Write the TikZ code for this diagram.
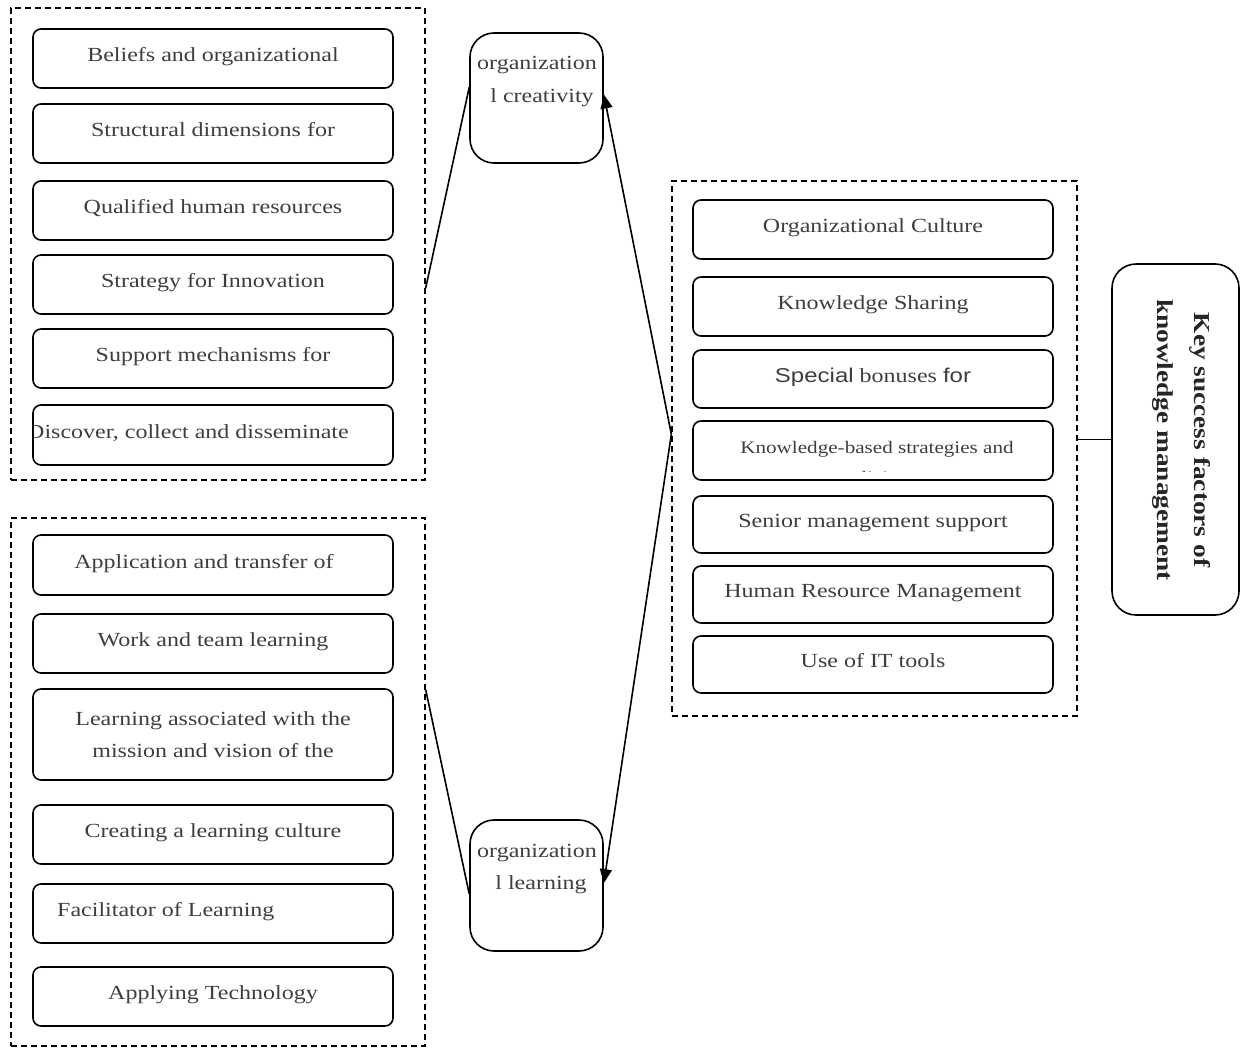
\documentclass[tikz,border=0pt]{standalone}
\usepackage{fontspec}
\setmainfont{Liberation Serif}[FakeStretch=1.2]
\newfontfamily\arialf{Liberation Sans}[FakeStretch=1.2]
\usetikzlibrary{arrows.meta}
\definecolor{txtc}{RGB}{62,62,62}
\begin{document}
\begin{tikzpicture}[x=1pt,y=-1pt,
  font=\fontsize{20}{31.5}\selectfont,
  grp/.style={draw, dash pattern=on 6pt off 4pt, line width=1.3pt, inner sep=0pt},
  itembox/.style={draw, line width=1.6pt, rounded corners=8pt, minimum width=360pt,
    inner sep=0pt, text height=14pt, text depth=8pt, text=txtc},
  bigbox/.style={draw, line width=1.6pt, rounded corners=24pt, inner sep=0pt},
  lbl/.style={text=txtc, inner sep=0pt},
  conn/.style={line width=1.6pt},
  arr/.style={conn, -{Triangle[length=14pt,width=12pt]}}]
\useasboundingbox (0,0) rectangle (1241,1049);

% ---------- group 1 ----------
\node[grp, minimum width=414pt, minimum height=472pt] (G1) at (218,244) {};
\node[itembox, minimum height=59pt] (B1) at (213,58.5) {Beliefs and organizational};
\node[itembox, minimum height=59pt] (B2) at (213,133.5) {Structural dimensions for};
\node[itembox, minimum height=59pt] (B3) at (213,210.5) {Qualified human resources};
\node[itembox, minimum height=59pt] (B4) at (213,284.5) {Strategy for Innovation};
\node[itembox, minimum height=59pt] (B5) at (213,358.5) {Support mechanisms for};
\node[itembox, minimum height=60pt] (B6) at (213,435) {};
\begin{scope}
  \clip (33,405) rectangle (393,465);
  \node[lbl, anchor=base west] (T6) at (27,438) {Discover, collect and disseminate};
\end{scope}

% ---------- group 2 ----------
\node[grp, minimum width=414pt, minimum height=528pt] (G2) at (218,782) {};
\node[itembox, minimum height=60pt] (C1) at (213,565) {\hspace*{-18pt}Application and transfer of};
\node[itembox, minimum height=59pt] (C2) at (213,643.5) {Work and team learning};
\node[itembox, minimum height=91pt, align=center, text height=, text depth=] (C3) at (213,734.5)
  {Learning associated with the\\mission and vision of the};
\node[itembox, minimum height=59pt] (C4) at (213,834.5) {Creating a learning culture};
\node[itembox, minimum height=59pt] (C5) at (213,913.5) {};
\node[lbl, anchor=base west] (T5) at (57,916.5) {Facilitator of Learning};
\node[itembox, minimum height=59pt] (C6) at (213,996.5) {Applying Technology};

% ---------- middle boxes ----------
\node[bigbox, minimum width=133pt, minimum height=130pt] (CR) at (536.5,98) {};
\node[lbl, anchor=base] (CRa) at (537,70) {organization};
\node[lbl, anchor=base] (CRb) at (542,102) {l creativity};
\node[bigbox, minimum width=133pt, minimum height=131pt] (LB) at (536.5,885.5) {};
\node[lbl, anchor=base] (LBa) at (537,857) {organization};
\node[lbl, anchor=base] (LBb) at (541,889) {l learning};

% ---------- right group ----------
\node[grp, minimum width=405pt, minimum height=535pt] (RG) at (874.5,448.5) {};
\node[itembox, minimum height=59pt] (R1) at (873,229.5) {Organizational Culture};
\node[itembox, minimum height=59pt] (R2) at (873,306.5) {Knowledge Sharing};
\node[itembox, minimum height=58pt] (R3) at (873,379) {{\arialf Special} bonuses {\arialf for}};
\node[itembox, minimum height=59pt] (R4) at (873,450.5) {};
\begin{scope}
  \clip (693,421) rectangle (1053,471);
  \node[lbl, anchor=base, font=\fontsize{17.6}{27}\selectfont] (R4a) at (877,453) {Knowledge-based strategies and};
  \node[lbl, anchor=base, font=\fontsize{17.6}{27}\selectfont] (R4b) at (873,483) {policies};
\end{scope}
\node[itembox, minimum height=57pt] (R5) at (873,524.5) {Senior management support};
\node[itembox, minimum height=57pt] (R6) at (873,594.5) {Human Resource Management};
\node[itembox, minimum height=57pt] (R7) at (873,664.5) {Use of IT tools};

% ---------- key box ----------
\node[bigbox, minimum width=127pt, minimum height=351pt] (KB) at (1175.5,439.5) {};
\node[lbl, rotate=-90, align=center, text=black!85,
  font=\bfseries\fontsize{22.8}{37}\selectfont] (KT) at (1181,440)
  {Key success factors of\\knowledge management};

% ---------- connectors ----------
\draw[conn] (G1.-12.3) -- (CR.171.5);
\draw[conn] (G2.24.65) -- (LB.187.3);
\draw[arr] (RG.176.75) -- (CR.3.4);
\draw[arr] (RG.176.75) -- (LB.2.2);
\draw[conn] (KB.west) -- (KB.west -| RG.east);
\end{tikzpicture}
\end{document}
